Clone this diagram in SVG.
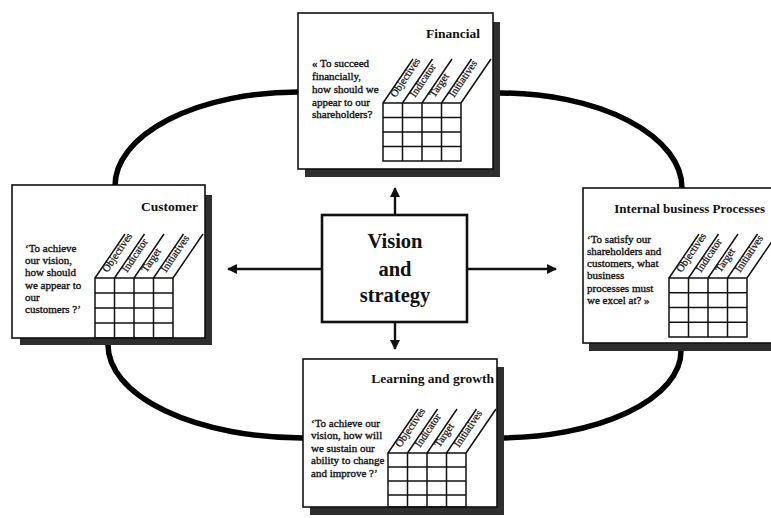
<svg xmlns="http://www.w3.org/2000/svg" width="771" height="518" viewBox="0 0 771 518">
<defs>
<style>
.shadow{fill:#2e2e2e}
.box{fill:#fff;stroke:#111;stroke-width:1.6}
.vbox{fill:#fff;stroke:#111;stroke-width:2.6}
.grid{fill:none;stroke:#111;stroke-width:1.5}
.arc{fill:none;stroke:#000;stroke-width:5.5;stroke-linecap:round}
.arrow{fill:none;stroke:#111;stroke-width:2.4}
.title{font-family:"Liberation Serif","Times New Roman",serif;font-weight:bold;font-size:13.5px;fill:#111}
.body{font-family:"Liberation Serif","Times New Roman",serif;font-size:11px;fill:#111;stroke:#111;stroke-width:0.35}
.col{font-family:"Liberation Serif","Times New Roman",serif;font-size:10.5px;fill:#111;stroke:#111;stroke-width:0.25}
.vis{font-family:"Liberation Serif","Times New Roman",serif;font-weight:bold;font-size:20.5px;fill:#111;text-anchor:middle}
</style>
<marker id="ah" viewBox="0 0 10 10" refX="9" refY="5" markerWidth="4.5" markerHeight="4.2" orient="auto" markerUnits="strokeWidth">
<path d="M0,0 L10,5 L0,10 Z" fill="#111"/>
</marker>
</defs>
<rect width="771" height="518" fill="#fff"/>

<g id="connectors">
<path class="arc" d="M298,92 A183,94 0 0 0 115,186"/>
<path class="arc" d="M500,93 A182,95 0 0 1 682,188"/>
<path class="arc" d="M108,345 A195,93 0 0 0 303,438"/>
<path class="arc" d="M681,351 A183,87 0 0 1 498,438"/>
<line class="arrow" x1="395" y1="215" x2="395" y2="188" marker-end="url(#ah)"/>
<line class="arrow" x1="395" y1="322" x2="395" y2="349" marker-end="url(#ah)"/>
<line class="arrow" x1="322" y1="269" x2="228" y2="269" marker-end="url(#ah)"/>
<line class="arrow" x1="467" y1="269" x2="556" y2="269" marker-end="url(#ah)"/>
</g>

<g id="financial">
<rect class="shadow" x="305" y="22" width="195" height="155"/>
<rect class="box" x="298" y="13" width="195" height="156"/>
<text class="title" x="480" y="38" text-anchor="end">Financial</text>
<text class="body"><tspan x="312" y="67">« To succeed</tspan><tspan x="312" y="80">financially,</tspan><tspan x="312" y="93">how should we</tspan><tspan x="312" y="106">appear to our</tspan><tspan x="312" y="118">shareholders?</tspan></text>
<path class="grid" d="M383,103 h78 v58 h-78 Z M402.5,103 v58 M422,103 v58 M441.5,103 v58 M383,117.5 h78 M383,132 h78 M383,146.5 h78 M383,103 l30,-44 M402.5,103 l30,-44 M422,103 l30,-44 M441.5,103 l30,-44 M461,103 l30,-44"/>
<text class="col" transform="translate(395.5,98) rotate(-56)">Objectives</text>
<text class="col" transform="translate(415,98) rotate(-56)">Indicator</text>
<text class="col" transform="translate(434.5,98) rotate(-56)">Target</text>
<text class="col" transform="translate(454,98) rotate(-56)">Initiatives</text>
</g>

<g id="customer">
<rect class="shadow" x="20" y="195" width="192" height="150"/>
<rect class="box" x="12" y="185" width="193" height="153"/>
<text class="title" x="198" y="211" text-anchor="end">Customer</text>
<text class="body"><tspan x="25" y="252">‘To achieve</tspan><tspan x="25" y="264">our vision,</tspan><tspan x="25" y="276">how should</tspan><tspan x="25" y="289">we appear to</tspan><tspan x="25" y="301">our</tspan><tspan x="25" y="313">customers ?’</tspan></text>
<path class="grid" d="M95,278 h78 v60 h-78 Z M114.5,278 v60 M134,278 v60 M153.5,278 v60 M95,293 h78 M95,308 h78 M95,323 h78 M95,278 l30,-44 M114.5,278 l30,-44 M134,278 l30,-44 M153.5,278 l30,-44 M173,278 l30,-44"/>
<text class="col" transform="translate(107.5,273) rotate(-56)">Objectives</text>
<text class="col" transform="translate(127,273) rotate(-56)">Indicator</text>
<text class="col" transform="translate(146.5,273) rotate(-56)">Target</text>
<text class="col" transform="translate(166,273) rotate(-56)">Initiatives</text>
</g>

<g id="internal">
<rect class="shadow" x="589" y="196" width="200" height="155"/>
<rect class="box" x="583" y="188" width="200" height="155"/>
<text class="title" x="765" y="213" text-anchor="end" style="font-size:13px">Internal business Processes</text>
<text class="body"><tspan x="587" y="243">‘To satisfy our</tspan><tspan x="587" y="255">shareholders and</tspan><tspan x="587" y="267">customers, what</tspan><tspan x="587" y="279">business</tspan><tspan x="587" y="292">processes must</tspan><tspan x="587" y="304">we excel at? »</tspan></text>
<path class="grid" d="M669,278 h78 v59 h-78 Z M688.5,278 v59 M708,278 v59 M727.5,278 v59 M669,292.75 h78 M669,307.5 h78 M669,322.25 h78 M669,278 l30,-44 M688.5,278 l30,-44 M708,278 l30,-44 M727.5,278 l30,-44 M747,278 l30,-44"/>
<text class="col" transform="translate(681.5,273) rotate(-56)">Objectives</text>
<text class="col" transform="translate(701,273) rotate(-56)">Indicator</text>
<text class="col" transform="translate(720.5,273) rotate(-56)">Target</text>
<text class="col" transform="translate(740,273) rotate(-56)">Initiatives</text>
</g>

<g id="learning">
<rect class="shadow" x="310" y="367" width="194" height="148"/>
<rect class="box" x="303" y="359" width="194" height="148"/>
<text class="title" x="494" y="383" text-anchor="end">Learning and growth</text>
<text class="body"><tspan x="311" y="427">‘To achieve our</tspan><tspan x="311" y="439">vision, how will</tspan><tspan x="311" y="452">we sustain our</tspan><tspan x="311" y="464">ability to change</tspan><tspan x="311" y="477">and improve ?’</tspan></text>
<path class="grid" d="M388,453 h78 v54 h-78 Z M407.5,453 v54 M427,453 v54 M446.5,453 v54 M388,467 h78 M388,481 h78 M388,495 h78 M388,453 l30,-44 M407.5,453 l30,-44 M427,453 l30,-44 M446.5,453 l30,-44 M466,453 l30,-44"/>
<text class="col" transform="translate(400.5,448) rotate(-56)">Objectives</text>
<text class="col" transform="translate(420,448) rotate(-56)">Indicator</text>
<text class="col" transform="translate(439.5,448) rotate(-56)">Target</text>
<text class="col" transform="translate(459,448) rotate(-56)">Initiatives</text>
</g>

<g id="vision">
<rect class="vbox" x="322" y="215" width="145" height="107"/>
<text class="vis" x="395" y="248">Vision</text>
<text class="vis" x="395" y="276">and</text>
<text class="vis" x="395" y="302">strategy</text>
</g>
</svg>
